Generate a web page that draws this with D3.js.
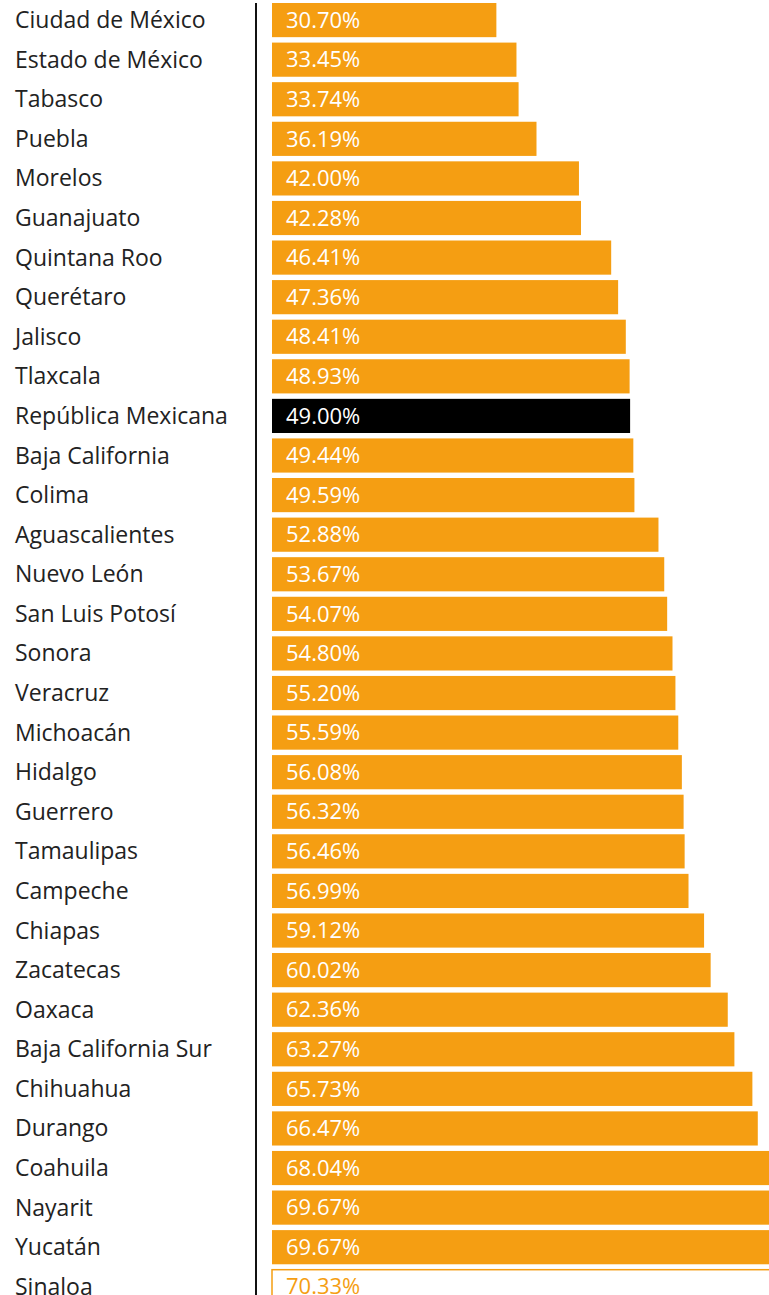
<!DOCTYPE html>
<html>
<head>
<meta charset="utf-8">
<script src="https://cdn.jsdelivr.net/npm/d3@7"></script>
<style>
  body { margin: 0; background: #fff; }
  svg { display: block; }
</style>
</head>
<body>
<svg id="chart"></svg>
<script>
var estados = ['Ciudad de México','Estado de México','Tabasco','Puebla','Morelos','Guanajuato',
  'Quintana Roo','Querétaro','Jalisco','Tlaxcala','República Mexicana','Baja California','Colima',
  'Aguascalientes','Nuevo León','San Luis Potosí','Sonora','Veracruz','Michoacán','Hidalgo',
  'Guerrero','Tamaulipas','Campeche','Chiapas','Zacatecas','Oaxaca','Baja California Sur',
  'Chihuahua','Durango','Coahuila','Nayarit','Yucatán','Sinaloa']
var porcentajes = [30.70,33.45,33.74,36.19,42.00,42.28,46.41,47.36,48.41,48.93,49.00,49.44,49.59,
  52.88,53.67,54.07,54.80,55.20,55.59,56.08,56.32,56.46,56.99,59.12,60.02,62.36,63.27,
  65.73,66.47,68.04,69.67,69.67,70.33]
var nacional = 'República Mexicana'
var resaltado = 'Sinaloa'

var width = 769, height = 1295
var naranja = '#f59e12'

var svg = d3.select('#chart').attr('width', width).attr('height', height)

var datos = estados.map(function (e, i) { return { name: e, value: porcentajes[i] } })

var x = d3.scaleLinear().domain([0, 70.33]).range([272, 786])
var y = d3.scaleBand().domain(estados).range([3, 3 + 39.42 * estados.length]).paddingInner(0.137).paddingOuter(0)

// barras
svg.append('g').selectAll('rect')
  .data(datos)
  .enter().append('rect')
  .attr('x', x(0))
  .attr('y', function (d) { return y(d.name) })
  .attr('width', function (d) { return x(d.value) - x(0) })
  .attr('height', y.bandwidth())
  .attr('fill', function (d) {
    if (d.name === nacional) return '#000'
    if (d.name === resaltado) return '#fff'
    return naranja
  })
  .attr('stroke', function (d) { return d.name === resaltado ? naranja : 'none' })
  .attr('stroke-width', 1.5)

// valores
svg.append('g').selectAll('text')
  .data(datos)
  .enter().append('text')
  .attr('x', x(0) + 14)
  .attr('y', function (d) { return y(d.name) + y.bandwidth() / 2 })
  .attr('dy', '0.35em')
  .attr('font-family', 'Open Sans, sans-serif')
  .attr('font-size', 22)
  .attr('fill', function (d) { return d.name === resaltado ? naranja : '#fff' })
  .text(function (d) { return d.value.toFixed(2) + '%' })

// etiquetas
svg.append('g').selectAll('text')
  .data(datos)
  .enter().append('text')
  .attr('x', 15)
  .attr('y', function (d) { return y(d.name) + y.bandwidth() / 2 })
  .attr('dy', '0.35em')
  .attr('font-family', 'Open Sans, sans-serif')
  .attr('font-size', 23)
  .attr('fill', '#222')
  .text(function (d) { return d.name })

// eje
svg.append('line')
  .attr('x1', 256).attr('x2', 256)
  .attr('y1', 3).attr('y2', height)
  .attr('stroke', '#111').attr('stroke-width', 2)
</script>
</body>
</html>
